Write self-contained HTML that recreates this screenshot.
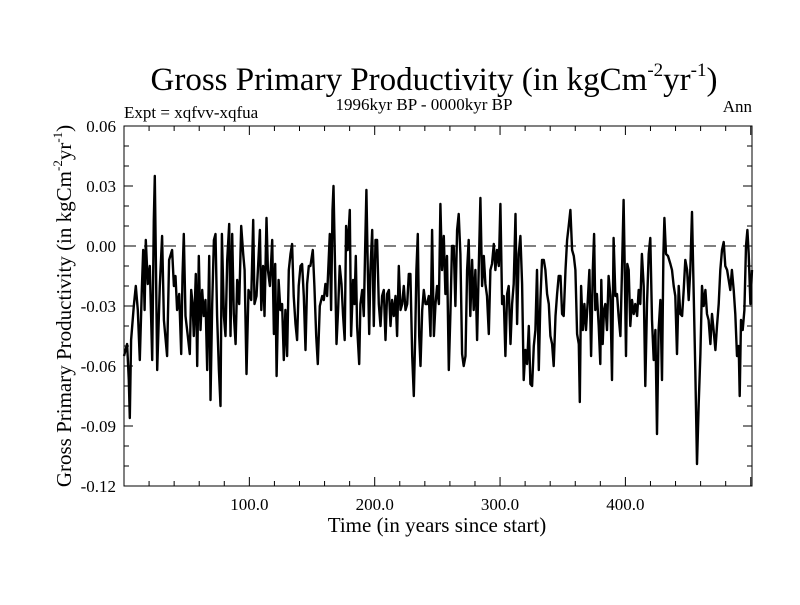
<!DOCTYPE html>
<html><head><meta charset="utf-8"><style>
body{margin:0;background:#fff;width:800px;height:600px;overflow:hidden}
svg{font-family:"Liberation Serif",serif}
</style></head><body>
<svg id="chart" width="800" height="600" xmlns="http://www.w3.org/2000/svg">
<text x="434" y="90" font-size="33" text-anchor="middle">Gross Primary Productivity (in kgCm<tspan font-size="19" dy="-14">-2</tspan><tspan dy="14">yr</tspan><tspan font-size="19" dy="-14">-1</tspan><tspan dy="14">)</tspan></text>
<text x="124" y="118" font-size="17">Expt = xqfvv-xqfua</text>
<text x="424" y="110" font-size="17" text-anchor="middle">1996kyr BP - 0000kyr BP</text>
<text x="752" y="112" font-size="17" text-anchor="end">Ann</text>
<text x="437" y="532" font-size="21" text-anchor="middle">Time (in years since start)</text>
<text transform="translate(71,306) rotate(-90)" font-size="21" text-anchor="middle">Gross Primary Productivity (in kgCm<tspan font-size="13" dy="-9">-2</tspan><tspan dy="9">yr</tspan><tspan font-size="13" dy="-9">-1</tspan><tspan dy="9">)</tspan></text>
<g id="axes"></g>
</svg>
<script>
const years=[0,2.5,3.8,4.6,5.7,7.8,9.4,11,12.6,14.2,15.3,16.4,17.4,19,20.6,22.5,23.8,24.6,25.4,26.5,28.6,30.4,31.8,34.4,36,38.4,39.8,41.1,42.4,44,45.6,46.7,47.7,49.1,50.9,52.5,53.6,54.7,55.7,57.3,58.4,59.7,61,62.4,63.7,65,66.4,68,69,70.4,71.7,73,74.3,75.7,77,78.1,79.7,81,82.3,83.9,85,86.3,87.6,89,90.3,91.9,93.5,95.1,96.2,97.7,99.3,101.5,103.1,104.1,105.7,106.8,108.4,109.5,111,112.1,113.7,114.8,116.4,118.2,119.6,120.6,121.7,123.3,
124.8,126.1,127.5,128.8,130.1,131.5,132.8,134.1,135.4,136.8,138.1,139.4,140.8,142.1,143.4,144.8,146.1,147.4,148.7,150.6,151.9,153.3,154.6,156.2,158.1,159.4,160.7,162,164.2,165.2,166.3,167.1,168.2,169.5,170.8,172.1,173.5,174.8,176.1,177.2,178.5,180.1,181.2,182.8,183.9,184.9,186,187.6,188.6,190,191.3,192.6,193.4,194.5,195.6,196.6,198,199.3,200.6,201.9,203.3,204.6,205.9,207.3,208.6,209.9,211.3,212.6,213.9,215.2,216.6,217.9,219.2,220.6,221.9,223.2,224.6,225.9,227.2,228.5,229.9,231.2,232.3,233.3,234.4,235.5,236.5,237.9,239.2,240.5,241.8,243.2,244.5,245.8,247.2,248.5,249.8,251.2,
252.4,253.7,255.1,256.4,257.7,259.1,260.4,261.7,263,264.4,265.7,267,268.4,269.7,271,272.4,273.7,275,276.3,277.7,279,280.3,281.7,283,284.3,285.7,287,288.3,289.6,291,292.3,293.6,295,296.3,297.6,299,300.3,301.6,302.9,304.3,305.6,306.9,308.3,309.6,310.9,312.3,313.6,314.9,316.2,317.6,318.9,320.2,321.6,322.9,324.2,325.6,326.9,328.2,329.5,330.9,332.2,333.5,334.9,336.2,337.5,338.9,340.2,341.5,342.8,344.2,345.5,346.8,348.2,349.5,350.8,352.2,353.5,354.8,356.1,357.5,358.8,360.1,361.5,362.8,363.6,364.7,366,367.3,368.6,370,371.3,372.6,374,375,
376,377.3,378.7,380,380.8,381.9,382.9,384,385.3,386.6,388,389.3,390.6,392,393.3,394.6,396,397.3,398.6,399.4,400.5,401.5,402.6,403.9,405.3,406.6,407.9,409.3,410.6,411.9,413.2,414.6,415.9,417.2,418.6,419.9,421.2,422.6,423.9,425.2,426.5,427.9,429.2,430.3,431.1,432.4,434,435.9,437.2,438.5,439.8,441.2,442.5,443.8,445.2,446.5,447.8,449.2,450.5,451.8,453.1,454.5,455.8,457.1,458.5,459.8,461.1,462.5,463.8,465.1,466.4,467.8,469.1,470.4,471.8,473.1,474.4,475.7,477.1,478.4,479.7,481.1,482.4,483.7,485,486.4,487.7,489,490.4,491.2,492.2,493.6,494.9,496.2,497.3,498.4,499.7,501];
const gpp=[-0.055,-0.049,-0.067,-0.086,-0.047,-0.030,-0.020,-0.032,-0.057,-0.022,-0.002,-0.032,0.003,-0.019,-0.010,-0.057,0.013,0.035,-0.004,-0.062,-0.020,0.005,-0.037,-0.055,-0.007,-0.002,-0.020,-0.015,-0.032,-0.024,-0.054,-0.015,0.006,-0.035,-0.045,-0.054,-0.022,-0.029,-0.045,-0.014,-0.060,-0.005,-0.042,-0.022,-0.035,-0.027,-0.062,-0.005,-0.077,-0.029,0.003,0.006,-0.035,-0.062,-0.080,0.006,-0.035,-0.045,-0.007,0.011,-0.045,0.006,-0.034,-0.049,-0.017,-0.029,0.010,-0.004,-0.012,-0.064,-0.022,-0.027,0.013,-0.029,-0.025,-0.012,0.008,-0.032,-0.010,-0.035,0.014,-0.012,-0.020,0.003,-0.044,-0.009,-0.065,-0.017,
-0.032,-0.029,-0.057,-0.032,-0.055,-0.012,-0.004,0.001,-0.025,-0.039,-0.047,-0.020,-0.010,-0.009,-0.025,-0.052,-0.019,-0.010,-0.010,-0.002,-0.020,-0.045,-0.059,-0.030,-0.025,-0.027,-0.019,-0.025,0.006,-0.032,0.018,0.030,-0.004,-0.049,-0.032,-0.010,-0.019,-0.035,-0.047,0.010,-0.002,0.018,-0.045,-0.017,-0.029,-0.005,-0.040,-0.059,-0.029,-0.022,-0.035,0.005,0.028,-0.012,-0.044,-0.012,0.008,-0.040,0.003,0.003,-0.029,-0.040,-0.025,-0.022,-0.047,-0.024,-0.022,-0.040,-0.027,-0.035,-0.025,-0.045,-0.010,-0.032,-0.029,-0.020,-0.032,-0.029,-0.014,-0.014,-0.055,-0.075,-0.045,-0.012,0.006,-0.045,-0.060,-0.032,-0.022,-0.029,-0.029,-0.025,-0.045,0.008,-0.045,-0.029,-0.020,-0.029,
0.021,-0.012,0.005,-0.024,-0.005,-0.062,-0.034,0.000,0.000,-0.030,0.008,0.016,-0.004,-0.054,-0.060,-0.055,-0.012,0.003,-0.035,-0.007,-0.032,-0.012,-0.047,-0.012,0.024,-0.020,-0.005,-0.019,-0.025,-0.044,-0.012,-0.009,0.001,-0.012,-0.002,-0.010,0.021,-0.029,-0.025,-0.055,-0.024,-0.020,-0.049,-0.029,-0.019,0.016,-0.039,-0.004,0.005,-0.019,-0.067,-0.052,-0.059,-0.040,-0.069,-0.070,-0.050,-0.042,-0.012,-0.062,-0.027,-0.007,-0.007,-0.012,-0.024,-0.029,-0.045,-0.049,-0.060,-0.035,-0.024,-0.015,-0.015,-0.034,-0.035,-0.012,0.003,0.010,0.018,-0.002,-0.005,-0.012,-0.044,-0.049,-0.078,-0.020,-0.042,-0.029,-0.042,-0.027,-0.012,-0.055,-0.012,0.006,
-0.032,-0.024,-0.040,-0.059,-0.017,-0.049,-0.032,-0.029,-0.042,-0.015,-0.025,-0.067,0.004,-0.025,-0.024,-0.035,-0.045,-0.012,0.023,-0.007,-0.055,-0.009,-0.012,-0.040,-0.027,-0.034,-0.029,-0.035,-0.022,-0.029,-0.004,-0.020,-0.070,-0.029,-0.004,0.004,-0.037,-0.057,-0.042,-0.094,-0.042,-0.027,-0.067,-0.004,0.014,-0.004,-0.005,-0.009,-0.012,-0.020,-0.025,-0.054,-0.020,-0.034,-0.035,-0.022,-0.007,-0.012,-0.027,-0.012,0.017,-0.024,-0.062,-0.109,-0.079,-0.054,-0.020,-0.030,-0.022,-0.034,-0.037,-0.049,-0.034,-0.042,-0.052,-0.040,-0.029,-0.012,-0.002,0.002,-0.010,-0.012,-0.017,-0.022,-0.012,-0.022,-0.034,-0.055,-0.050,-0.075,-0.037,-0.042,-0.032,0.000,0.008,-0.004,-0.029,-0.012];
const xTickLabels=["100.0","200.0","300.0","400.0"];
const xTickValues=[100,200,300,400];
const yTickLabels=["0.06","0.03","0.00","-0.03","-0.06","-0.09","-0.12"];
const yTickValues=[0.06,0.03,0,-0.03,-0.06,-0.09,-0.12];

const L=124,R=752,T=126,B=486,XMAX=501,YMIN=-0.12,YMAX=0.06;
const sx=v=>L+(v/XMAX)*(R-L);
const sy=v=>B-(v-YMIN)/(YMAX-YMIN)*(B-T);
const NS="http://www.w3.org/2000/svg";
const g=document.getElementById('axes');
function mk(tag,attrs){const e=document.createElementNS(NS,tag);for(const k in attrs)e.setAttribute(k,attrs[k]);g.appendChild(e);return e;}

const z=mk('line',{x1:L,x2:R,y1:sy(0),y2:sy(0),stroke:'#000','stroke-width':1,'stroke-dasharray':'12 8'});



let d='';
for(let i=0;i<years.length;i++){d+=(i?'L':'M')+sx(Math.min(years[i],XMAX)).toFixed(1)+' '+sy(gpp[i]).toFixed(1);}
const p=mk('path',{d:d,fill:'none',stroke:'#000','stroke-width':2.4,'stroke-linejoin':'round'});



const f=mk('rect',{x:L,y:T,width:R-L,height:B-T,fill:'none',stroke:'#000','stroke-width':1});



for(let v=20;v<XMAX;v+=20){
  const len=(v%100===0)?9:5;const x=sx(v);
  const t1=mk('line',{x1:x,x2:x,y1:B,y2:B-len,stroke:'#000'});
  
  
  const t2=mk('line',{x1:x,x2:x,y1:T,y2:T+len,stroke:'#000'});
  
  
}
xTickValues.forEach((v,i)=>{
  const t=mk('text',{x:sx(v),y:B+24,'font-size':17,'text-anchor':'middle'});
  t.textContent=xTickLabels[i];
  
  
});
for(let k=-11;k<=5;k++){
  const v=k/100;const len=(k%3===0)?9:5;const y=sy(v);
  const t1=mk('line',{x1:L,x2:L+len,y1:y,y2:y,stroke:'#000'});
  
  
  const t2=mk('line',{x1:R,x2:R-len,y1:y,y2:y,stroke:'#000'});
  
  
}
yTickValues.forEach((v,i)=>{
  const t=mk('text',{x:L-8,y:sy(v)+6,'font-size':17,'text-anchor':'end'});
  t.textContent=yTickLabels[i];
  
  
});
</script>
</body></html>
